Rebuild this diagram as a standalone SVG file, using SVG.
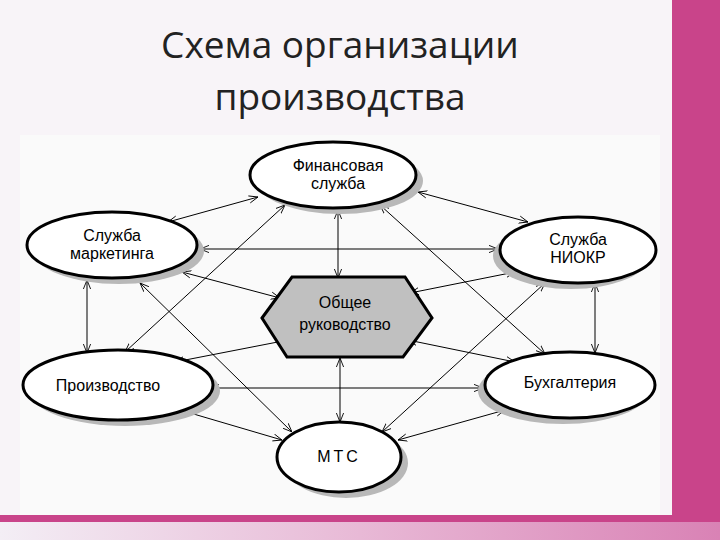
<svg xmlns="http://www.w3.org/2000/svg" width="720" height="540" viewBox="0 0 720 540">
<defs>
<marker id="a" viewBox="0 0 10 10" refX="10" refY="5" markerWidth="9" markerHeight="9" orient="auto-start-reverse" markerUnits="userSpaceOnUse"><path d="M0,1 L10,5 L0,9" fill="none" stroke="#000" stroke-width="1"/></marker>
<linearGradient id="bg" x1="0" x2="1"><stop offset="0" stop-color="#f3eef5"/><stop offset="0.5" stop-color="#e8b9d6"/><stop offset="1" stop-color="#d982b5"/></linearGradient>
</defs>
<style>
.n{fill:#fff;stroke:#000;stroke-width:3}
.s{fill:#b8b8b8}
.t{font-family:"Liberation Sans",Arial,sans-serif;font-size:16px;text-anchor:middle;fill:#000}
.c line{stroke:#000;stroke-width:1;marker-start:url(#a);marker-end:url(#a)}
.h{font-family:"Open Sans","Liberation Sans",sans-serif;font-size:37px;text-anchor:middle;fill:#222}
</style>
<rect width="720" height="540" fill="#f8f4f8"/>
<rect x="20" y="135" width="640" height="380" fill="#fafafa"/>
<rect x="672" y="0" width="48" height="540" fill="#c9448a"/>
<rect x="0" y="515" width="720" height="7" fill="#c9448a"/>
<rect x="0" y="522" width="720" height="18" fill="url(#bg)"/>
<text class="h" x="340" y="58">Схема организации</text>
<text class="h" x="340" y="110">производства</text>
<g class="c" id="connectors">
<line x1="168" y1="222" x2="258" y2="197"/>
<line x1="418" y1="192" x2="528" y2="222"/>
<line x1="338" y1="210" x2="338" y2="278"/>
<line x1="200" y1="249" x2="498" y2="249"/>
<line x1="182" y1="272" x2="280" y2="298"/>
<line x1="410" y1="293" x2="515" y2="272"/>
<line x1="87" y1="280" x2="87" y2="353"/>
<line x1="595" y1="283" x2="595" y2="353"/>
<line x1="140" y1="283" x2="292" y2="432"/>
<line x1="285" y1="205" x2="125" y2="352"/>
<line x1="380" y1="205" x2="545" y2="354"/>
<line x1="545" y1="283" x2="382" y2="432"/>
<line x1="288" y1="340" x2="175" y2="362"/>
<line x1="408" y1="340" x2="515" y2="362"/>
<line x1="210" y1="388" x2="483" y2="388"/>
<line x1="340" y1="358" x2="340" y2="422"/>
<line x1="180" y1="410" x2="282" y2="440"/>
<line x1="505" y1="410" x2="398" y2="440"/>
</g>
<g id="fin"><ellipse class="s" cx="340" cy="181" rx="83" ry="33"/><ellipse class="n" cx="333" cy="175" rx="83" ry="33"/><text class="t" x="338" y="171">Финансовая</text><text class="t" x="338" y="189">служба</text></g>
<g id="mark"><ellipse class="s" cx="119" cy="251" rx="85" ry="33"/><ellipse class="n" cx="112" cy="245" rx="85" ry="33"/><text class="t" x="112" y="241">Служба</text><text class="t" x="112" y="259">маркетинга</text></g>
<g id="niokr"><ellipse class="s" cx="571" cy="256" rx="78" ry="33"/><ellipse class="n" cx="578" cy="250" rx="78" ry="33"/><text class="t" x="578" y="245">Служба</text><text class="t" x="578" y="263">НИОКР</text></g>
<g id="obsh"><polygon points="262,318 292,277 405,277 432,318 403,357 287,357" fill="#c0c0c0" stroke="#000" stroke-width="3"/><text class="t" x="345" y="308">Общее</text><text class="t" x="345" y="330">руководство</text></g>
<g id="proizv"><ellipse class="s" cx="125" cy="391" rx="95" ry="35"/><ellipse class="n" cx="118" cy="385" rx="95" ry="35"/><text class="t" x="108" y="391">Производство</text></g>
<g id="buh"><ellipse class="s" cx="563" cy="391" rx="85" ry="33"/><ellipse class="n" cx="570" cy="385" rx="85" ry="33"/><text class="t" x="570" y="388">Бухгалтерия</text></g>
<g id="mts"><ellipse class="s" cx="346" cy="463" rx="62" ry="35"/><ellipse class="n" cx="339" cy="457" rx="62" ry="35"/><text class="t" x="339" y="462" letter-spacing="3">МТС</text></g>
</svg>
